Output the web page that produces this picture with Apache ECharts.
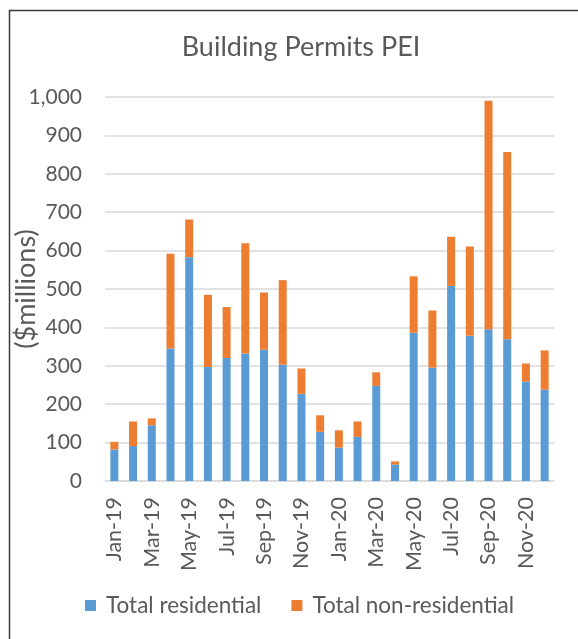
<!DOCTYPE html>
<html>
<head>
<meta charset="utf-8">
<script src="https://cdn.jsdelivr.net/npm/echarts@6/dist/echarts.min.js"></script>
<style>
html,body{margin:0;padding:0;background:#fff;}
#chart{width:578px;height:639px;}
</style>
</head>
<body>
<div id="chart"></div>
<script>
const categories = ['Jan-19','Feb-19','Mar-19','Apr-19','May-19','Jun-19','Jul-19','Aug-19','Sep-19','Oct-19','Nov-19','Dec-19',
  'Jan-20','Feb-20','Mar-20','Apr-20','May-20','Jun-20','Jul-20','Aug-20','Sep-20','Oct-20','Nov-20','Dec-20'];
const residential = [82,91,145,345,583,297,320,332,342,303,227,128,87,115,248,43,386,295,508,378,395,369,259,238];
const nonResidential = [20,64,18,247,98,188,133,287,149,220,66,43,45,40,35,8,147,149,128,233,595,488,47,102];
const yTicks = [0,100,200,300,400,500,600,700,800,900,1000];

const FONT = 'Lato';
const TXT = '#595959';
const chart = echarts.init(document.getElementById('chart'), null, {renderer:'canvas'});
chart.setOption({
  animation:false,
  backgroundColor:'#ffffff',
  graphic:[{
    type:'rect', left:7, top:8, z:-1,
    shape:{x:0,y:0,width:640,height:700},
    style:{fill:'none', stroke:'#3a3a3a', lineWidth:1.5}
  }],
  title:{
    text:'Building Permits PEI',
    left:296, top:29, textAlign:'center',
    textStyle:{fontFamily:FONT, fontSize:27, fontWeight:'normal', color:TXT}
  },
  legend:{
    left:80, top:589,
    itemWidth:11, itemHeight:11, itemGap:30,
    icon:'rect',
    textStyle:{fontFamily:FONT, fontSize:22.5, color:TXT, padding:[0,0,0,5]},
    data:['Total residential','Total non-residential']
  },
  grid:{left:105, right:24, top:97, bottom:158, containLabel:false, outerBoundsMode:'none'},
  xAxis:{
    type:'category',
    data:categories,
    axisLine:{lineStyle:{color:'#d9d9d9', width:1.5}},
    axisTick:{show:false},
    axisLabel:{rotate:90, interval:1, margin:16, fontFamily:FONT, fontSize:21.5, color:TXT}
  },
  yAxis:{
    type:'value',
    min:yTicks[0], max:yTicks[yTicks.length-1], interval:100,
    name:'($millions)',
    nameLocation:'middle', nameGap:65, nameRotate:90, nameMoveOverlap:false,
    nameTextStyle:{fontFamily:FONT, fontSize:27, color:TXT},
    axisLine:{show:false}, axisTick:{show:false},
    splitLine:{lineStyle:{color:'#d9d9d9', width:1.5}},
    axisLabel:{margin:23, fontFamily:FONT, fontSize:21, color:TXT,
      formatter:function(v){return v.toLocaleString('en-US');}}
  },
  series:[
    {name:'Total residential', type:'bar', stack:'t', data:residential, barWidth:8,
      itemStyle:{color:'#5b9bd5'}},
    {name:'Total non-residential', type:'bar', stack:'t', data:nonResidential, barWidth:8,
      itemStyle:{color:'#ed7d31'}}
  ]
});
</script>
</body>
</html>
